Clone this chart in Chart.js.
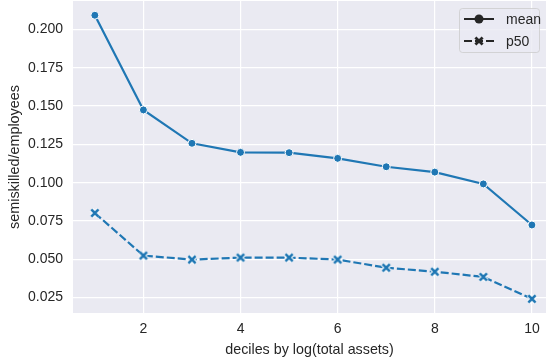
<!DOCTYPE html>
<html>
<head>
<meta charset="utf-8">
<script src="https://cdn.jsdelivr.net/npm/chart.js@4/dist/chart.umd.min.js"></script>
<style>
html,body{margin:0;padding:0;background:#fff;overflow:hidden;}
#wrap{width:547px;height:362px;position:relative;}
</style>
</head>
<body>
<div id="wrap"><canvas id="c" width="547" height="362"></canvas></div>
<script>
const deciles = [1, 2, 3, 4, 5, 6, 7, 8, 9, 10];
const meanVals = [0.2093, 0.1475, 0.1257, 0.1198, 0.1196, 0.1159, 0.1104, 0.1069, 0.0992, 0.0724];
const p50Vals = [0.0802, 0.0524, 0.0498, 0.0511, 0.0511, 0.0498, 0.0445, 0.0419, 0.0385, 0.0242];
const xTicks = [2, 4, 6, 8, 10];
const yTicks = [0.025, 0.050, 0.075, 0.100, 0.125, 0.150, 0.175, 0.200];
const seriesNames = ['mean', 'p50'];
const xTitle = 'deciles by log(total assets)';
const yTitle = 'semiskilled/employees';

const BLUE = '#1f77b4';
const TXT = '#262626';
const FONT = "'Liberation Sans', Arial, sans-serif";

function makeX(size) {
  const c = document.createElement('canvas');
  c.width = size; c.height = size;
  const g = c.getContext('2d');
  const m = size / 2, h = 3.6;
  const seg = (w, col) => {
    g.strokeStyle = col; g.lineWidth = w; g.lineCap = 'butt';
    g.beginPath();
    g.moveTo(m - h, m - h); g.lineTo(m + h, m + h);
    g.moveTo(m + h, m - h); g.lineTo(m - h, m + h);
    g.stroke();
  };
  seg(4.6, '#ffffff');
  seg(2.7, BLUE);
  return c;
}
const xMarker = makeX(14);

const bgPlugin = {
  id: 'bg',
  beforeDraw(chart) {
    const {ctx, chartArea: a} = chart;
    ctx.save();
    ctx.fillStyle = '#EAEAF2';
    ctx.fillRect(a.left, a.top, a.right - a.left, a.bottom - a.top);
    ctx.restore();
  }
};

const legendPlugin = {
  id: 'customLegend',
  afterDraw(chart) {
    const ctx = chart.ctx;
    const a = chart.chartArea;
    const w = 80, h = 44;
    const x0 = a.right - 7 - w, y0 = a.top + 7;
    ctx.save();
    ctx.beginPath();
    ctx.roundRect(x0 + 0.5, y0 + 0.5, w, h, 3);
    ctx.fillStyle = 'rgba(234,234,242,0.8)';
    ctx.fill();
    ctx.strokeStyle = 'rgba(204,204,204,0.8)';
    ctx.lineWidth = 1;
    ctx.stroke();
    const rows = [y0 + 11, y0 + 33];
    chart.data.datasets.forEach((ds, i) => {
      const y = rows[i];
      const lx0 = x0 + 5, lx1 = x0 + 35, mx = (lx0 + lx1) / 2;
      ctx.strokeStyle = '#262626';
      ctx.lineWidth = 2;
      ctx.setLineDash(ds.borderDash || []);
      ctx.beginPath(); ctx.moveTo(lx0, y); ctx.lineTo(lx1, y); ctx.stroke();
      ctx.setLineDash([]);
      if (i === 0) {
        ctx.beginPath(); ctx.arc(mx, y, 4.5, 0, Math.PI * 2);
        ctx.fillStyle = '#262626'; ctx.fill();
      } else {
        ctx.save();
        ctx.strokeStyle = '#262626'; ctx.lineWidth = 2.8;
        ctx.beginPath();
        ctx.moveTo(mx - 3.6, y - 3.6); ctx.lineTo(mx + 3.6, y + 3.6);
        ctx.moveTo(mx + 3.6, y - 3.6); ctx.lineTo(mx - 3.6, y + 3.6);
        ctx.stroke();
        ctx.restore();
      }
      ctx.fillStyle = TXT;
      ctx.font = '14px ' + FONT;
      ctx.textBaseline = 'middle';
      ctx.textAlign = 'left';
      ctx.fillText(ds.label, x0 + 47, y + 1);
    });
    ctx.restore();
  }
};

new Chart(document.getElementById('c'), {
  type: 'line',
  data: {
    datasets: [
      {
        label: seriesNames[0],
        data: deciles.map((d, i) => ({x: d, y: meanVals[i]})),
        borderColor: BLUE, borderWidth: 2.2, tension: 0,
        pointStyle: 'circle', pointRadius: 4, pointBorderWidth: 1,
        pointBackgroundColor: BLUE, pointBorderColor: '#ffffff'
      },
      {
        label: seriesNames[1],
        data: deciles.map((d, i) => ({x: d, y: p50Vals[i]})),
        borderColor: BLUE, borderWidth: 2.2, tension: 0, borderDash: [8, 3],
        pointStyle: xMarker, pointRadius: 5
      }
    ]
  },
  options: {
    responsive: false,
    animation: false,
    layout: {autoPadding: false, padding: {left: 0, right: 1, top: 1, bottom: 0}},
    plugins: {legend: {display: false}, tooltip: {enabled: false}},
    scales: {
      x: {
        type: 'linear', min: 0.55, max: 10.29,
        afterBuildTicks(s) { s.ticks = xTicks.map(v => ({value: v})); },
        afterFit(s) { s.height = 49; s.paddingLeft = 0; s.paddingRight = 0; },
        grid: {color: '#ffffff', lineWidth: 1.2, drawTicks: false},
        border: {display: false},
        ticks: {color: TXT, font: {size: 14, family: FONT}, padding: 8, maxRotation: 0,
          callback: v => String(v)},
        title: {display: true, text: xTitle, color: TXT, font: {size: 14.3, family: FONT}, padding: {top: 3.5, bottom: 3.5}}
      },
      y: {
        type: 'linear', min: 0.01494, max: 0.2186,
        afterBuildTicks(s) { s.ticks = yTicks.map(v => ({value: v})); },
        afterFit(s) { s.width = 73; s.paddingTop = 0; s.paddingBottom = 0; },
        grid: {color: '#ffffff', lineWidth: 1.2, drawTicks: false},
        border: {display: false},
        ticks: {color: TXT, font: {size: 14, family: FONT}, padding: 10,
          callback: v => Number(v).toFixed(3)},
        title: {display: true, text: yTitle, color: TXT, font: {size: 14.4, family: FONT}, padding: {top: 6.5, bottom: 6.5}}
      }
    }
  },
  plugins: [bgPlugin, legendPlugin]
});
</script>
</body>
</html>
